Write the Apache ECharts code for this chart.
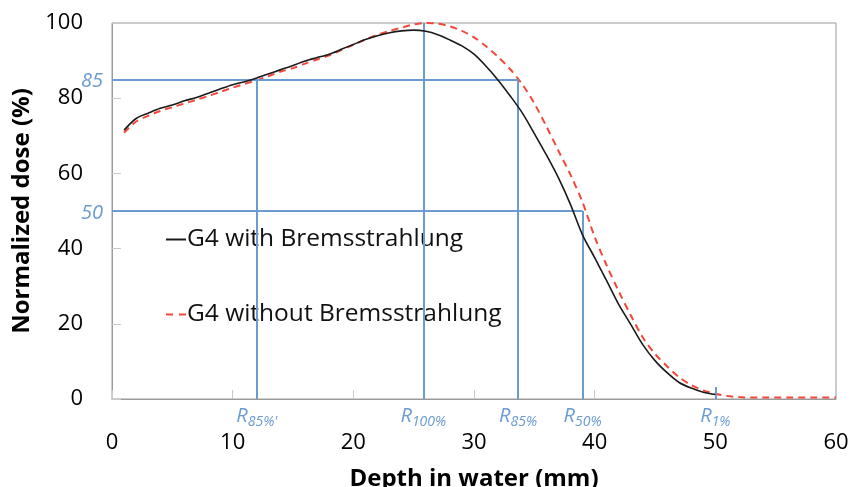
<!DOCTYPE html>
<html>
<head>
<meta charset="utf-8">
<script src="https://cdn.jsdelivr.net/npm/echarts@6/dist/echarts.min.js"></script>
<style>html,body{margin:0;padding:0;background:#fff}#c{width:853px;height:487px}</style>
</head>
<body>
<div id="c"></div>
<script>
// ---- data ----
const depthWith = [1,2,3,4,5,6,7,8,9,10,11,12,13,14,15,16,17,18,19,20,21,22,23,24,25,26,27,28,29,30,31,32,33,34,35,36,37,38,39,40,41,42,43,44,45,46,47,48,49,50];
const doseWith = [71.5,74.6,76.0,77.3,78.2,79.3,80.2,81.3,82.5,83.6,84.4,85.4,86.5,87.6,88.7,89.9,90.8,91.7,93.0,94.3,95.6,96.6,97.4,97.9,98.1,97.8,96.9,95.5,93.9,91.7,88.5,84.8,80.6,76.1,70.6,64.9,58.8,51.7,43.6,37.6,31.4,25.1,19.8,14.4,10.2,7.0,4.4,2.9,1.8,1.2];
const depthWithout = [1,2,3,4,5,6,7,8,9,10,11,12,13,14,15,16,17,18,19,20,21,22,23,24,25,26,27,28,29,30,31,32,33,34,35,36,37,38,39,40,41,42,43,44,45,46,47,48,49,50,51,52,53,54,55,56,57,58,59,60];
const doseWithout = [70.8,73.8,75.3,76.6,77.6,78.6,79.6,80.6,81.7,82.8,83.8,84.8,85.9,87.1,88.0,89.2,90.3,91.4,92.8,94.2,95.6,96.9,97.9,98.8,99.6,100.0,99.8,99.1,97.9,96.2,93.8,91.0,87.7,83.7,78.6,72.5,66.0,59.6,52.3,43.1,35.5,28.6,22.2,16.3,12.0,8.7,5.8,3.7,2.3,1.4,0.8,0.5,0.4,0.4,0.4,0.4,0.4,0.4,0.4,0.4];
const seriesNames = ['G4 with Bremsstrahlung', 'G4 without Bremsstrahlung'];

// reference range markers: depth (mm), label subscript, top dose of the vertical line
const refDepths = [12.0, 25.8, 33.65, 39.0, 50.0];
const refSubs = ["85%'", '100%', '85%', '50%', '1%'];
const refTops = [85, 100, 85, 50, 3.2];
// horizontal dose levels and where they end
const refLevels = [85, 50];
const refLevelEnds = [33.65, 39.0];

const xTicks = {min: 0, max: 60, interval: 10};
const yTicks = {min: 0, max: 100, interval: 20};

const BLUE = '#6a9bd1';
const FONT = 'Open Sans';

const pairs = (xs, ys) => xs.map((x, i) => [x, ys[i]]);

const markData = [];
refDepths.forEach((d, i) => {
  markData.push([
    {coord: [d, 0], label: {formatter: '{r|R}{s|' + refSubs[i] + '}', distance: 4}},
    {coord: [d, refTops[i]]}
  ]);
});
refLevels.forEach((v, i) => {
  markData.push([
    {coord: [0, v], label: {formatter: '{n|' + v + '}', distance: 9}},
    {coord: [refLevelEnds[i], v]}
  ]);
});

const chart = echarts.init(document.getElementById('c'), null, {renderer: 'canvas'});
chart.setOption({
  animation: false,
  backgroundColor: '#fff',
  textStyle: {fontFamily: FONT},
  grid: {left: 112, right: 17, top: 23, bottom: 88, show: true, borderColor: '#9a9a9a', borderWidth: 1,
         containLabel: false, outerBoundsMode: 'none'},
  legend: {
    orient: 'vertical', left: 160, top: 222, itemGap: 50,
    itemWidth: 20, itemHeight: 2,
    itemStyle: {color: 'rgba(0,0,0,0)', borderWidth: 0, opacity: 0},
    textStyle: {fontSize: 24.5, color: '#111', fontFamily: FONT, padding: [0, 0, 0, -4]},
    data: [
      {name: seriesNames[0]},
      {name: seriesNames[1], lineStyle: {type: [7, 6]}}
    ]
  },
  xAxis: {
    type: 'value', min: xTicks.min, max: xTicks.max, interval: xTicks.interval,
    name: 'Depth in water (mm)', nameLocation: 'middle', nameGap: 68,
    nameTextStyle: {fontSize: 24, fontWeight: 'bold', color: '#000', fontFamily: FONT},
    axisLine: {lineStyle: {color: '#9a9a9a', width: 1}},
    axisTick: {inside: true, length: 9, lineStyle: {color: '#c8c8c8'}},
    axisLabel: {fontSize: 22, color: '#000', margin: 33, fontFamily: FONT},
    splitLine: {show: false}
  },
  yAxis: {
    type: 'value', min: yTicks.min, max: yTicks.max, interval: yTicks.interval,
    name: 'Normalized dose (%)', nameLocation: 'middle', nameGap: 76,
    nameTextStyle: {fontSize: 24, fontWeight: 'bold', color: '#000', fontFamily: FONT},
    axisLine: {show: true, lineStyle: {color: '#9a9a9a', width: 1}},
    axisTick: {show: true, inside: true, length: 9, lineStyle: {color: '#c8c8c8'}},
    axisLabel: {fontSize: 22, color: '#000', margin: 29, fontFamily: FONT},
    splitLine: {show: false}
  },
  series: [
    {
      name: 'ref', type: 'line', data: [], silent: true,
      markLine: {
        silent: true, symbol: ['none', 'none'], animation: false,
        lineStyle: {color: BLUE, width: 2, type: 'solid'},
        label: {
          show: true, position: 'start', color: BLUE,
          rich: {
            r: {fontSize: 20, fontStyle: 'italic', color: BLUE, fontFamily: FONT},
            s: {fontSize: 14, fontStyle: 'italic', color: BLUE, fontFamily: FONT, padding: [12, 0, 0, 0]},
            n: {fontSize: 20, fontStyle: 'italic', color: BLUE, fontFamily: FONT, padding: [4, 0, 0, 0]}
          }
        },
        data: markData
      }
    },
    {
      name: seriesNames[0], type: 'line', data: pairs(depthWith, doseWith),
      smooth: 0.3, symbol: 'none', z: 5,
      lineStyle: {color: '#1a1a1a', width: 1.6},
      itemStyle: {color: '#1a1a1a'}
    },
    {
      name: seriesNames[1], type: 'line', data: pairs(depthWithout, doseWithout),
      smooth: 0.3, symbol: 'none', z: 4,
      lineStyle: {color: '#f5463a', width: 2, type: [7, 5]},
      itemStyle: {color: '#f5463a'}
    }
  ]
});
</script>
</body>
</html>
